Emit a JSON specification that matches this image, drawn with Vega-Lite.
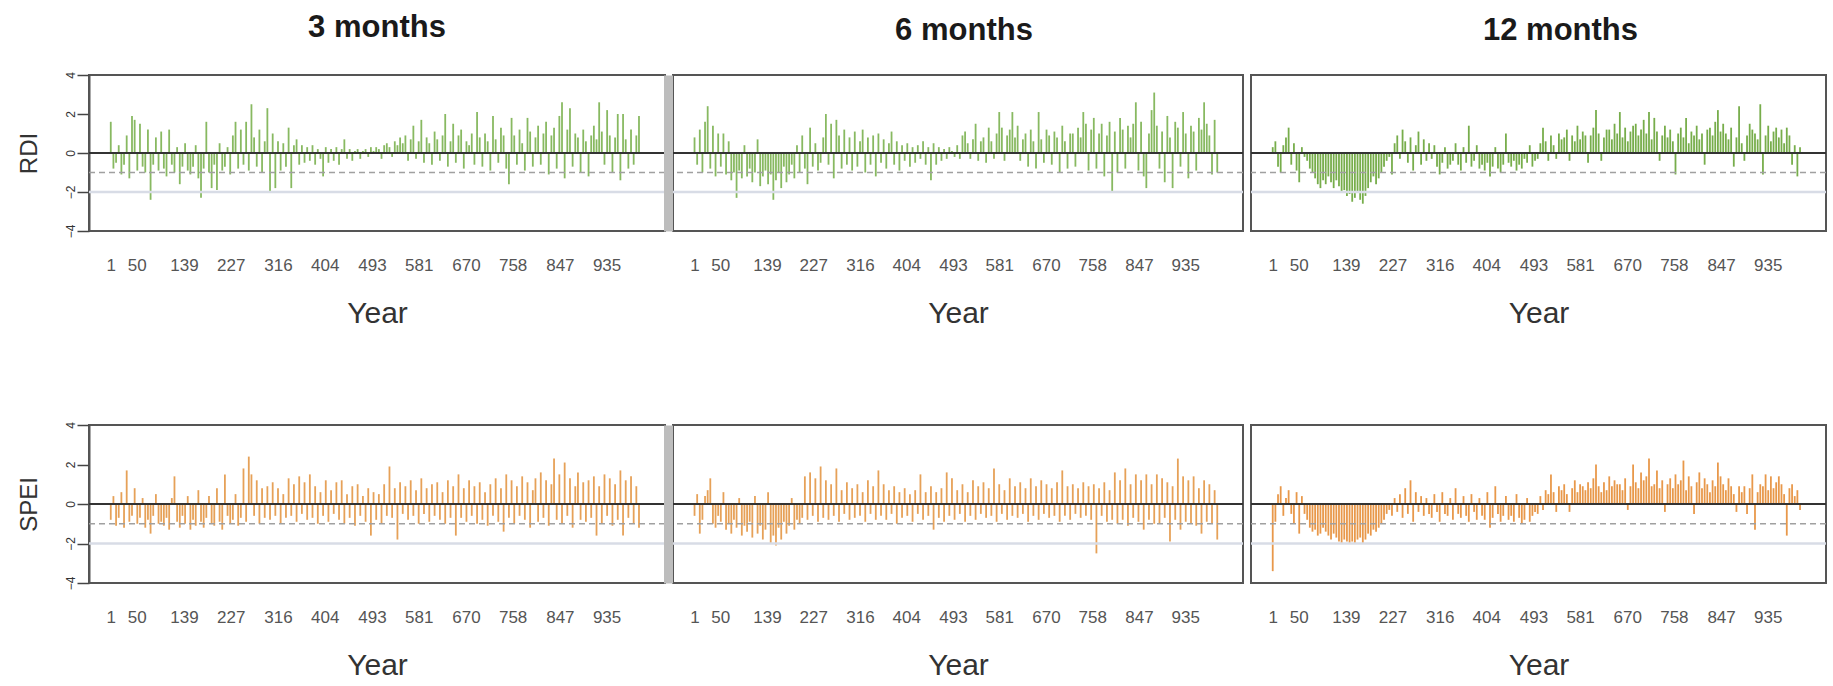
{
"$schema": "https://vega.github.io/schema/vega-lite/v6.json",
"padding": {"left": 16, "top": 10, "right": 4, "bottom": 0},
"background": "white",
"data": {"values": [
{"m":1,"r3":1.6,"r6":0.8,"r12":0.3,"s3":-0.8,"s6":-0.6,"s12":-3.4},
{"m":6,"r3":-0.8,"r6":-0.6,"r12":0.6,"s3":0.4,"s6":0.5,"s12":-0.9},
{"m":11,"r3":-0.5,"r6":1.2,"r12":-0.7,"s3":-1.1,"s6":-1.5,"s12":0.5},
{"m":16,"r3":0.4,"r6":-1.0,"r12":-1.0,"s3":-0.7,"s6":-0.8,"s12":0.9},
{"m":21,"r3":-1.1,"r6":1.6,"r12":0.4,"s3":0.6,"s6":0.4,"s12":-0.6},
{"m":26,"r3":-0.6,"r6":2.4,"r12":0.8,"s3":-1.2,"s6":0.7,"s12":0.3},
{"m":31,"r3":0.9,"r6":-0.8,"r12":1.3,"s3":1.7,"s6":1.3,"s12":0.7},
{"m":36,"r3":-1.3,"r6":1.4,"r12":-0.6,"s3":-0.9,"s6":-1.0,"s12":-0.5},
{"m":41,"r3":1.9,"r6":-1.2,"r12":0.5,"s3":-0.6,"s6":-1.2,"s12":-1.0},
{"m":46,"r3":1.7,"r6":1.0,"r12":-0.9,"s3":0.8,"s6":-0.6,"s12":0.6},
{"m":51,"r3":-0.9,"r6":-0.7,"r12":-1.5,"s3":-1.0,"s6":-0.9,"s12":-1.5},
{"m":56,"r3":1.5,"r6":1.0,"r12":0.3,"s3":-0.7,"s6":0.6,"s12":0.4},
{"m":61,"r3":-0.7,"r6":-1.1,"r12":-0.2,"s3":0.3,"s6":-1.3,"s12":-0.5},
{"m":66,"r3":-1.0,"r6":0.6,"r12":-0.4,"s3":-1.2,"s6":-1.0,"s12":-0.8},
{"m":71,"r3":1.2,"r6":-1.4,"r12":-0.8,"s3":-0.8,"s6":-1.5,"s12":-1.2},
{"m":76,"r3":-2.4,"r6":-1.0,"r12":-1.0,"s3":-1.5,"s6":-0.8,"s12":-1.4},
{"m":81,"r3":-0.6,"r6":-2.3,"r12":-1.3,"s3":-0.6,"s6":-1.2,"s12":-1.3},
{"m":86,"r3":0.8,"r6":-0.9,"r12":-1.6,"s3":0.5,"s6":0.3,"s12":-1.6},
{"m":91,"r3":-0.9,"r6":-1.3,"r12":-1.8,"s3":-1.0,"s6":-1.6,"s12":-1.5},
{"m":96,"r3":1.1,"r6":0.4,"r12":-1.4,"s3":-0.9,"s6":-1.1,"s12":-1.2},
{"m":101,"r3":-0.8,"r6":-1.2,"r12":-1.6,"s3":-1.1,"s6":-1.4,"s12":-1.4},
{"m":106,"r3":-1.2,"r6":-0.8,"r12":-1.2,"s3":-0.7,"s6":-0.9,"s12":-1.6},
{"m":111,"r3":1.2,"r6":-1.5,"r12":-1.5,"s3":-1.3,"s6":-1.7,"s12":-1.8},
{"m":116,"r3":-0.6,"r6":-1.0,"r12":-1.8,"s3":0.3,"s6":0.4,"s12":-1.5},
{"m":121,"r3":-1.0,"r6":0.7,"r12":-1.4,"s3":1.4,"s6":-1.5,"s12":-1.7},
{"m":126,"r3":0.3,"r6":-1.7,"r12":-1.7,"s3":-0.9,"s6":-1.1,"s12":-1.9},
{"m":131,"r3":-1.6,"r6":-1.2,"r12":-2.0,"s3":-1.2,"s6":-1.8,"s12":-2.0},
{"m":136,"r3":-0.7,"r6":-0.9,"r12":-1.9,"s3":-0.6,"s6":-1.3,"s12":-1.8},
{"m":141,"r3":0.5,"r6":-1.6,"r12":-2.2,"s3":-1.0,"s6":0.6,"s12":-1.9},
{"m":146,"r3":-0.9,"r6":-1.1,"r12":-2.1,"s3":0.4,"s6":-2.0,"s12":-2.0},
{"m":151,"r3":-1.1,"r6":-2.4,"r12":-2.5,"s3":-1.3,"s6":-1.6,"s12":-1.9},
{"m":156,"r3":-0.7,"r6":-1.4,"r12":-2.3,"s3":-0.8,"s6":-2.1,"s12":-2.0},
{"m":161,"r3":0.4,"r6":-1.0,"r12":-2.0,"s3":-1.1,"s6":-1.2,"s12":-1.8},
{"m":166,"r3":-1.3,"r6":-1.8,"r12":-2.4,"s3":0.7,"s6":-1.8,"s12":-1.7},
{"m":171,"r3":-2.3,"r6":-0.7,"r12":-2.6,"s3":-0.9,"s6":-0.9,"s12":-2.0},
{"m":176,"r3":-0.8,"r6":-1.5,"r12":-2.2,"s3":-1.2,"s6":-1.5,"s12":-1.8},
{"m":181,"r3":1.6,"r6":-1.1,"r12":-1.8,"s3":-0.7,"s6":-1.1,"s12":-1.5},
{"m":186,"r3":-1.0,"r6":-0.6,"r12":-1.5,"s3":0.4,"s6":0.3,"s12":-1.6},
{"m":191,"r3":-1.8,"r6":-1.3,"r12":-1.2,"s3":-1.0,"s6":-1.3,"s12":-1.3},
{"m":196,"r3":-0.6,"r6":0.4,"r12":-1.6,"s3":-1.1,"s6":-0.8,"s12":-1.4},
{"m":201,"r3":-1.9,"r6":-1.0,"r12":-1.3,"s3":0.8,"s6":-1.0,"s12":-1.2},
{"m":206,"r3":0.5,"r6":0.9,"r12":-1.0,"s3":-0.9,"s6":-0.7,"s12":-1.0},
{"m":211,"r3":-0.9,"r6":-0.8,"r12":-0.7,"s3":-1.3,"s6":1.4,"s12":-0.8},
{"m":216,"r3":-0.7,"r6":-1.6,"r12":-0.4,"s3":1.5,"s6":-0.8,"s12":-0.5},
{"m":221,"r3":0.3,"r6":1.3,"r12":-0.2,"s3":-0.6,"s6":1.6,"s12":-0.3},
{"m":226,"r3":-1.1,"r6":-0.7,"r12":-1.1,"s3":-1.0,"s6":-0.6,"s12":-0.6},
{"m":231,"r3":0.9,"r6":0.5,"r12":0.5,"s3":-0.8,"s6":1.3,"s12":0.3},
{"m":236,"r3":1.6,"r6":-0.9,"r12":0.9,"s3":0.5,"s6":-0.9,"s12":-0.4},
{"m":241,"r3":-0.8,"r6":-0.5,"r12":-0.3,"s3":-1.1,"s6":1.9,"s12":0.5},
{"m":246,"r3":1.2,"r6":0.8,"r12":1.2,"s3":-0.7,"s6":-0.7,"s12":-0.7},
{"m":251,"r3":-0.6,"r6":2.0,"r12":0.6,"s3":1.8,"s6":1.2,"s12":0.8},
{"m":256,"r3":1.6,"r6":-0.6,"r12":-0.5,"s3":-0.9,"s6":-0.8,"s12":-0.5},
{"m":261,"r3":-0.9,"r6":1.5,"r12":0.8,"s3":2.4,"s6":1.0,"s12":1.2},
{"m":266,"r3":2.5,"r6":-1.3,"r12":-0.9,"s3":1.5,"s6":-0.6,"s12":-0.9},
{"m":271,"r3":0.8,"r6":1.7,"r12":0.4,"s3":-0.6,"s6":1.8,"s12":0.6},
{"m":276,"r3":-0.7,"r6":0.9,"r12":1.1,"s3":1.2,"s6":-0.9,"s12":-0.4},
{"m":281,"r3":1.2,"r6":-0.8,"r12":-0.6,"s3":-1.0,"s6":0.7,"s12":0.4},
{"m":286,"r3":-1.0,"r6":1.2,"r12":0.7,"s3":0.8,"s6":-0.5,"s12":-0.6},
{"m":291,"r3":0.6,"r6":-0.6,"r12":-0.4,"s3":-0.7,"s6":1.1,"s12":0.3},
{"m":296,"r3":2.3,"r6":0.8,"r12":0.5,"s3":0.9,"s6":-0.8,"s12":-0.5},
{"m":301,"r3":-2.0,"r6":-0.9,"r12":-0.3,"s3":-0.8,"s6":0.8,"s12":-0.7},
{"m":306,"r3":1.0,"r6":1.1,"r12":0.4,"s3":1.1,"s6":-0.7,"s12":0.5},
{"m":311,"r3":-1.8,"r6":-0.7,"r12":-0.7,"s3":-0.6,"s6":1.0,"s12":-0.4},
{"m":316,"r3":0.6,"r6":0.6,"r12":-1.1,"s3":0.8,"s6":-0.6,"s12":-0.9},
{"m":321,"r3":-0.9,"r6":1.2,"r12":-0.5,"s3":-1.0,"s6":0.6,"s12":0.6},
{"m":326,"r3":0.5,"r6":-1.0,"r12":0.3,"s3":0.5,"s6":-0.9,"s12":-0.5},
{"m":331,"r3":-0.7,"r6":0.8,"r12":-0.8,"s3":-0.7,"s6":1.2,"s12":-0.6},
{"m":336,"r3":1.3,"r6":-0.6,"r12":-0.6,"s3":1.3,"s6":-0.5,"s12":0.3},
{"m":341,"r3":-1.8,"r6":0.9,"r12":-0.4,"s3":-0.6,"s6":0.9,"s12":-0.8},
{"m":346,"r3":0.4,"r6":-1.2,"r12":0.5,"s3":1.0,"s6":-0.8,"s12":0.8},
{"m":351,"r3":0.7,"r6":1.0,"r12":-0.6,"s3":-0.9,"s6":1.7,"s12":-0.5},
{"m":356,"r3":-0.6,"r6":-0.5,"r12":-0.9,"s3":1.4,"s6":-0.6,"s12":-0.7},
{"m":361,"r3":0.4,"r6":0.7,"r12":0.3,"s3":-0.5,"s6":1.0,"s12":0.4},
{"m":366,"r3":-0.5,"r6":-0.8,"r12":-0.5,"s3":1.1,"s6":-0.8,"s12":-0.6},
{"m":371,"r3":0.3,"r6":0.5,"r12":1.4,"s3":-0.8,"s6":0.7,"s12":-0.9},
{"m":376,"r3":-0.4,"r6":1.1,"r12":-0.7,"s3":1.5,"s6":-0.5,"s12":0.5},
{"m":381,"r3":0.4,"r6":-0.6,"r12":-0.4,"s3":-0.7,"s6":0.9,"s12":-0.4},
{"m":386,"r3":-0.6,"r6":0.6,"r12":0.4,"s3":0.9,"s6":-1.0,"s12":-0.8},
{"m":391,"r3":0.2,"r6":-0.9,"r12":-0.8,"s3":-1.0,"s6":0.6,"s12":0.3},
{"m":396,"r3":-0.3,"r6":0.4,"r12":-0.6,"s3":0.6,"s6":-0.7,"s12":-0.6},
{"m":401,"r3":-1.2,"r6":-0.4,"r12":-0.9,"s3":-0.6,"s6":0.8,"s12":-0.8},
{"m":406,"r3":0.3,"r6":0.5,"r12":-0.5,"s3":1.2,"s6":-0.6,"s12":0.6},
{"m":411,"r3":-0.5,"r6":-0.7,"r12":-1.2,"s3":-0.9,"s6":0.5,"s12":-1.2},
{"m":416,"r3":0.2,"r6":0.3,"r12":-0.7,"s3":0.7,"s6":-0.9,"s12":-0.7},
{"m":421,"r3":-0.4,"r6":-0.5,"r12":0.3,"s3":-0.5,"s6":0.7,"s12":0.9},
{"m":426,"r3":0.3,"r6":0.4,"r12":-0.8,"s3":1.1,"s6":-0.5,"s12":-0.5},
{"m":431,"r3":-0.6,"r6":-0.3,"r12":-1.0,"s3":-0.8,"s6":1.5,"s12":-0.9},
{"m":436,"r3":0.2,"r6":0.6,"r12":-0.6,"s3":1.2,"s6":-0.8,"s12":-0.6},
{"m":441,"r3":0.7,"r6":-0.6,"r12":1.0,"s3":-1.0,"s6":0.6,"s12":0.4},
{"m":446,"r3":-0.3,"r6":0.3,"r12":-0.5,"s3":0.5,"s6":-0.6,"s12":-0.8},
{"m":451,"r3":0.2,"r6":-1.4,"r12":-0.7,"s3":-0.7,"s6":0.9,"s12":-0.6},
{"m":456,"r3":-0.4,"r6":0.5,"r12":-0.4,"s3":0.9,"s6":-1.3,"s12":-0.9},
{"m":461,"r3":0.1,"r6":-0.6,"r12":-0.9,"s3":-1.1,"s6":0.6,"s12":0.5},
{"m":466,"r3":0.2,"r6":0.3,"r12":-0.6,"s3":1.0,"s6":-0.7,"s12":-0.7},
{"m":471,"r3":-0.3,"r6":-0.4,"r12":-0.8,"s3":-0.6,"s6":0.8,"s12":-1.0},
{"m":476,"r3":0.1,"r6":0.2,"r12":-0.3,"s3":0.4,"s6":-0.9,"s12":-0.8},
{"m":481,"r3":0.2,"r6":-0.3,"r12":-0.5,"s3":-0.9,"s6":1.6,"s12":0.3},
{"m":486,"r3":-0.2,"r6":0.3,"r12":0.4,"s3":0.8,"s6":-0.6,"s12":-0.9},
{"m":491,"r3":0.3,"r6":0.1,"r12":-0.7,"s3":-1.6,"s6":1.3,"s12":-0.6},
{"m":496,"r3":0.1,"r6":-0.2,"r12":-0.4,"s3":0.6,"s6":-0.8,"s12":-0.4},
{"m":501,"r3":0.3,"r6":0.4,"r12":-0.3,"s3":-0.8,"s6":0.7,"s12":-0.5},
{"m":506,"r3":0.2,"r6":-0.3,"r12":0.5,"s3":0.5,"s6":-0.5,"s12":0.4},
{"m":511,"r3":-0.3,"r6":0.9,"r12":1.3,"s3":-1.0,"s6":1.0,"s12":-0.3},
{"m":516,"r3":0.4,"r6":1.1,"r12":0.6,"s3":1.0,"s6":-0.9,"s12":0.7},
{"m":521,"r3":0.5,"r6":0.5,"r12":-0.4,"s3":-0.6,"s6":0.6,"s12":0.5},
{"m":526,"r3":0.3,"r6":-0.3,"r12":0.9,"s3":1.9,"s6":-0.6,"s12":1.5},
{"m":531,"r3":-0.2,"r6":0.7,"r12":0.4,"s3":-0.7,"s6":1.2,"s12":0.6},
{"m":536,"r3":0.6,"r6":1.5,"r12":-0.3,"s3":0.8,"s6":-0.8,"s12":-0.4},
{"m":541,"r3":0.4,"r6":-0.4,"r12":1.0,"s3":-1.8,"s6":0.9,"s12":0.9},
{"m":546,"r3":0.8,"r6":0.6,"r12":0.7,"s3":1.1,"s6":-0.5,"s12":0.7},
{"m":551,"r3":0.5,"r6":0.8,"r12":0.8,"s3":-0.5,"s6":1.1,"s12":1.0},
{"m":556,"r3":0.9,"r6":-0.5,"r12":1.2,"s3":0.9,"s6":-0.7,"s12":0.5},
{"m":561,"r3":-0.4,"r6":1.3,"r12":-0.4,"s3":-0.8,"s6":0.8,"s12":-0.4},
{"m":566,"r3":0.7,"r6":0.6,"r12":0.9,"s3":1.2,"s6":-0.6,"s12":0.8},
{"m":571,"r3":1.4,"r6":-0.3,"r12":0.6,"s3":-0.6,"s6":1.8,"s12":1.2},
{"m":576,"r3":-0.3,"r6":1.0,"r12":1.4,"s3":0.7,"s6":-0.9,"s12":0.6},
{"m":581,"r3":0.6,"r6":2.1,"r12":0.7,"s3":-1.0,"s6":1.0,"s12":1.0},
{"m":586,"r3":1.7,"r6":1.3,"r12":1.1,"s3":1.3,"s6":-0.5,"s12":0.9},
{"m":591,"r3":-0.5,"r6":-0.4,"r12":0.9,"s3":-0.5,"s6":0.7,"s12":0.7},
{"m":596,"r3":0.8,"r6":0.9,"r12":-0.5,"s3":0.8,"s6":-0.8,"s12":1.1},
{"m":601,"r3":0.5,"r6":1.2,"r12":0.9,"s3":-0.9,"s6":1.3,"s12":0.8},
{"m":606,"r3":-0.6,"r6":2.1,"r12":1.3,"s3":1.0,"s6":-0.6,"s12":1.3},
{"m":611,"r3":1.1,"r6":0.8,"r12":2.2,"s3":-0.6,"s6":0.9,"s12":2.0},
{"m":616,"r3":0.7,"r6":1.4,"r12":1.0,"s3":1.1,"s6":-0.7,"s12":0.9},
{"m":621,"r3":-0.4,"r6":-0.4,"r12":-0.4,"s3":-0.8,"s6":1.1,"s12":0.6},
{"m":626,"r3":0.9,"r6":0.7,"r12":0.8,"s3":0.6,"s6":-0.5,"s12":1.1},
{"m":631,"r3":2.0,"r6":1.0,"r12":1.2,"s3":-1.0,"s6":0.8,"s12":0.7},
{"m":636,"r3":-0.7,"r6":-0.7,"r12":1.2,"s3":1.2,"s6":-0.9,"s12":1.4},
{"m":641,"r3":0.6,"r6":1.2,"r12":0.7,"s3":-0.7,"s6":1.3,"s12":0.9},
{"m":646,"r3":1.5,"r6":0.6,"r12":1.5,"s3":0.9,"s6":-0.6,"s12":1.2},
{"m":651,"r3":-0.5,"r6":-0.8,"r12":1.0,"s3":-1.6,"s6":0.9,"s12":1.0},
{"m":656,"r3":0.9,"r6":2.1,"r12":2.1,"s3":1.5,"s6":-0.8,"s12":1.0},
{"m":661,"r3":1.2,"r6":0.7,"r12":0.8,"s3":-0.7,"s6":1.2,"s12":0.7},
{"m":666,"r3":-0.8,"r6":-0.5,"r12":1.3,"s3":0.8,"s6":-0.5,"s12":1.3},
{"m":671,"r3":0.6,"r6":1.2,"r12":0.6,"s3":-0.9,"s6":1.0,"s12":-0.3},
{"m":676,"r3":0.4,"r6":0.9,"r12":1.1,"s3":1.2,"s6":-0.7,"s12":0.9},
{"m":681,"r3":1.0,"r6":-0.6,"r12":1.4,"s3":-0.6,"s6":0.8,"s12":2.0},
{"m":686,"r3":-0.6,"r6":1.1,"r12":1.5,"s3":0.9,"s6":-0.6,"s12":1.1},
{"m":691,"r3":2.1,"r6":0.8,"r12":0.9,"s3":-1.0,"s6":1.1,"s12":0.8},
{"m":696,"r3":0.8,"r6":-1.0,"r12":1.2,"s3":1.1,"s6":-0.9,"s12":1.6},
{"m":701,"r3":-0.7,"r6":1.4,"r12":1.7,"s3":-0.8,"s6":1.7,"s12":1.2},
{"m":706,"r3":1.0,"r6":0.6,"r12":1.0,"s3":0.6,"s6":-0.6,"s12":1.4},
{"m":711,"r3":0.6,"r6":-0.8,"r12":2.1,"s3":-1.1,"s6":0.9,"s12":2.3},
{"m":716,"r3":-0.9,"r6":1.0,"r12":0.7,"s3":1.0,"s6":-0.8,"s12":0.9},
{"m":721,"r3":1.9,"r6":1.0,"r12":1.8,"s3":-0.6,"s6":1.0,"s12":1.0},
{"m":726,"r3":0.7,"r6":-0.7,"r12":1.1,"s3":1.3,"s6":-0.5,"s12":1.7},
{"m":731,"r3":-0.5,"r6":1.3,"r12":-0.4,"s3":-0.9,"s6":0.8,"s12":0.8},
{"m":736,"r3":1.3,"r6":0.8,"r12":0.9,"s3":0.8,"s6":-0.7,"s12":1.2},
{"m":741,"r3":0.9,"r6":2.1,"r12":1.4,"s3":-1.4,"s6":1.1,"s12":-0.4},
{"m":746,"r3":-0.8,"r6":1.5,"r12":0.8,"s3":1.5,"s6":-0.6,"s12":1.0},
{"m":751,"r3":-1.6,"r6":-0.9,"r12":1.2,"s3":-0.7,"s6":0.9,"s12":1.3},
{"m":756,"r3":1.8,"r6":1.2,"r12":0.6,"s3":1.2,"s6":-0.8,"s12":0.8},
{"m":761,"r3":0.9,"r6":1.8,"r12":-1.1,"s3":-1.0,"s6":1.0,"s12":1.5},
{"m":766,"r3":-0.6,"r6":-0.8,"r12":1.0,"s3":0.9,"s6":-2.5,"s12":1.0},
{"m":771,"r3":1.2,"r6":1.0,"r12":1.3,"s3":-0.6,"s6":0.8,"s12":1.2},
{"m":776,"r3":0.5,"r6":1.5,"r12":0.8,"s3":1.4,"s6":-0.6,"s12":2.2},
{"m":781,"r3":-0.9,"r6":-1.2,"r12":1.8,"s3":-0.8,"s6":1.1,"s12":0.7},
{"m":786,"r3":1.8,"r6":0.9,"r12":0.5,"s3":1.1,"s6":-0.9,"s12":1.4},
{"m":791,"r3":1.1,"r6":1.6,"r12":1.1,"s3":-1.2,"s6":0.7,"s12":0.9},
{"m":796,"r3":-0.7,"r6":-2.0,"r12":0.9,"s3":0.7,"s6":-0.8,"s12":-0.5},
{"m":801,"r3":0.8,"r6":1.1,"r12":1.4,"s3":1.3,"s6":1.6,"s12":1.1},
{"m":806,"r3":1.4,"r6":-1.0,"r12":0.7,"s3":-0.9,"s6":-1.0,"s12":1.6},
{"m":811,"r3":-0.6,"r6":1.8,"r12":1.0,"s3":1.6,"s6":1.2,"s12":0.8},
{"m":816,"r3":1.0,"r6":1.2,"r12":-0.6,"s3":-0.7,"s6":-0.8,"s12":1.3},
{"m":821,"r3":1.6,"r6":-0.8,"r12":1.2,"s3":1.2,"s6":1.8,"s12":1.0},
{"m":826,"r3":-1.1,"r6":1.4,"r12":1.3,"s3":-1.1,"s6":-1.1,"s12":0.6},
{"m":831,"r3":0.9,"r6":0.8,"r12":0.9,"s3":1.0,"s6":1.0,"s12":1.2},
{"m":836,"r3":1.3,"r6":1.5,"r12":1.6,"s3":2.3,"s6":-0.7,"s12":0.9},
{"m":841,"r3":-0.8,"r6":2.6,"r12":2.2,"s3":-0.8,"s6":1.5,"s12":2.1},
{"m":846,"r3":1.9,"r6":-0.9,"r12":1.1,"s3":1.5,"s6":-0.9,"s12":1.4},
{"m":851,"r3":2.6,"r6":1.6,"r12":1.5,"s3":-1.0,"s6":1.2,"s12":1.0},
{"m":856,"r3":-1.3,"r6":-1.2,"r12":1.0,"s3":2.1,"s6":-1.3,"s12":0.7},
{"m":861,"r3":1.2,"r6":-1.8,"r12":0.7,"s3":-0.6,"s6":1.5,"s12":1.3},
{"m":866,"r3":2.3,"r6":1.0,"r12":1.3,"s3":1.3,"s6":-0.8,"s12":0.9},
{"m":871,"r3":-0.7,"r6":2.2,"r12":-0.7,"s3":-1.2,"s6":1.0,"s12":0.5},
{"m":876,"r3":1.0,"r6":3.1,"r12":0.8,"s3":0.9,"s6":-1.0,"s12":-0.4},
{"m":881,"r3":0.8,"r6":1.4,"r12":2.4,"s3":1.6,"s6":1.5,"s12":0.9},
{"m":886,"r3":-1.0,"r6":-0.8,"r12":0.5,"s3":-0.8,"s6":-1.0,"s12":0.6},
{"m":891,"r3":1.2,"r6":1.1,"r12":-0.4,"s3":1.1,"s6":1.3,"s12":0.9},
{"m":896,"r3":0.6,"r6":-1.5,"r12":0.9,"s3":-0.9,"s6":-0.7,"s12":-0.5},
{"m":901,"r3":-1.2,"r6":1.9,"r12":1.5,"s3":1.2,"s6":1.1,"s12":0.8},
{"m":906,"r3":0.9,"r6":0.8,"r12":1.2,"s3":-0.7,"s6":-1.9,"s12":1.5},
{"m":911,"r3":1.4,"r6":-1.8,"r12":1.0,"s3":1.4,"s6":0.9,"s12":-1.3},
{"m":916,"r3":0.7,"r6":1.6,"r12":0.7,"s3":-1.6,"s6":-0.8,"s12":0.6},
{"m":921,"r3":2.6,"r6":1.3,"r12":2.5,"s3":0.9,"s6":2.3,"s12":1.0},
{"m":926,"r3":1.1,"r6":-0.7,"r12":-1.1,"s3":-1.0,"s6":-1.3,"s12":0.9},
{"m":931,"r3":-0.6,"r6":2.1,"r12":0.9,"s3":1.5,"s6":1.4,"s12":1.5},
{"m":936,"r3":2.2,"r6":1.0,"r12":1.4,"s3":-0.6,"s6":-0.9,"s12":0.7},
{"m":941,"r3":0.9,"r6":-1.3,"r12":0.6,"s3":1.3,"s6":1.2,"s12":1.4},
{"m":946,"r3":-1.0,"r6":1.4,"r12":1.1,"s3":-1.1,"s6":-1.0,"s12":0.8},
{"m":951,"r3":0.8,"r6":1.1,"r12":1.3,"s3":1.0,"s6":1.4,"s12":1.1},
{"m":956,"r3":2.0,"r6":-0.9,"r12":0.8,"s3":-0.8,"s6":-1.1,"s12":1.4},
{"m":961,"r3":-1.4,"r6":1.8,"r12":1.2,"s3":1.7,"s6":0.8,"s12":1.0},
{"m":966,"r3":2.0,"r6":1.2,"r12":0.5,"s3":-1.6,"s6":-1.5,"s12":0.5},
{"m":971,"r3":0.7,"r6":2.6,"r12":1.3,"s3":1.2,"s6":1.2,"s12":-1.6},
{"m":976,"r3":-0.8,"r6":1.5,"r12":0.9,"s3":-0.7,"s6":-0.9,"s12":0.8},
{"m":981,"r3":1.2,"r6":0.9,"r12":-0.6,"s3":1.4,"s6":1.0,"s12":1.0},
{"m":986,"r3":-0.6,"r6":-1.1,"r12":0.4,"s3":-1.0,"s6":-1.0,"s12":0.4},
{"m":991,"r3":0.9,"r6":1.7,"r12":-1.2,"s3":0.9,"s6":0.7,"s12":0.7},
{"m":996,"r3":1.9,"r6":-1.0,"r12":0.3,"s3":-1.2,"s6":-1.8,"s12":-0.3}
]},
"columns": 3,
"bounds": "flush",
"spacing": {"row": 194, "column": 8},
"concat": [
{"width": 576, "height": 156, "title": "3 months",
 "layer": [
  {"mark": {"type": "rule", "color": "#6aa83a", "strokeWidth": 1.8, "opacity": 0.8},
   "encoding": {
    "x": {"field": "m", "type": "quantitative", "scale": {"domain": [-40, 1045], "nice": false, "zero": false}, "axis": {"values": [1,50,139,227,316,404,493,581,670,758,847,935], "title": "Year"}},
    "y": {"field": "r3", "type": "quantitative", "scale": {"domain": [-4, 4], "nice": false}, "axis": {"values": [-4,-2,0,2,4], "tickCount": 5, "title": "RDI", "labelAngle": -90, "labelOverlap": false, "labelBound": false}},
    "y2": {"datum": 0}}},
  {"data": {"values": [{}]}, "mark": {"type": "rule", "color": "#a0a0a0", "strokeDash": [6, 4], "strokeWidth": 1.5}, "encoding": {"y": {"datum": -1}}},
  {"data": {"values": [{}]}, "mark": {"type": "rule", "color": "#d8dce6", "strokeWidth": 2.5}, "encoding": {"y": {"datum": -2}}},
  {"data": {"values": [{}]}, "mark": {"type": "rule", "color": "#333333", "strokeWidth": 2}, "encoding": {"y": {"datum": 0}}}
 ]},
{"width": 570, "height": 156, "title": {"text": "6 months", "dx": 6},
 "layer": [
  {"mark": {"type": "rule", "color": "#6aa83a", "strokeWidth": 1.8, "opacity": 0.8},
   "encoding": {
    "x": {"field": "m", "type": "quantitative", "scale": {"domain": [-40, 1045], "nice": false, "zero": false}, "axis": {"values": [1,50,139,227,316,404,493,581,670,758,847,935], "title": "Year"}},
    "y": {"field": "r6", "type": "quantitative", "scale": {"domain": [-4, 4], "nice": false}, "axis": {"labels": false, "ticks": false, "title": null, "domainColor": "#bdbdbd", "domainWidth": 9, "offset": 5}},
    "y2": {"datum": 0}}},
  {"data": {"values": [{}]}, "mark": {"type": "rule", "color": "#a0a0a0", "strokeDash": [6, 4], "strokeWidth": 1.5}, "encoding": {"y": {"datum": -1}}},
  {"data": {"values": [{}]}, "mark": {"type": "rule", "color": "#d8dce6", "strokeWidth": 2.5}, "encoding": {"y": {"datum": -2}}},
  {"data": {"values": [{}]}, "mark": {"type": "rule", "color": "#333333", "strokeWidth": 2}, "encoding": {"y": {"datum": 0}}}
 ]},
{"width": 575, "height": 156, "title": {"text": "12 months", "dx": 22},
 "layer": [
  {"mark": {"type": "rule", "color": "#5f9f2c", "strokeWidth": 1.8, "opacity": 0.85},
   "encoding": {
    "x": {"field": "m", "type": "quantitative", "scale": {"domain": [-40, 1045], "nice": false, "zero": false}, "axis": {"values": [1,50,139,227,316,404,493,581,670,758,847,935], "title": "Year"}},
    "y": {"field": "r12", "type": "quantitative", "scale": {"domain": [-4, 4], "nice": false}, "axis": {"labels": false, "ticks": false, "domain": false, "title": null}},
    "y2": {"datum": 0}}},
  {"data": {"values": [{}]}, "mark": {"type": "rule", "color": "#a0a0a0", "strokeDash": [6, 4], "strokeWidth": 1.5}, "encoding": {"y": {"datum": -1}}},
  {"data": {"values": [{}]}, "mark": {"type": "rule", "color": "#d8dce6", "strokeWidth": 2.5}, "encoding": {"y": {"datum": -2}}},
  {"data": {"values": [{}]}, "mark": {"type": "rule", "color": "#333333", "strokeWidth": 2}, "encoding": {"y": {"datum": 0}}}
 ]},
{"width": 576, "height": 158,
 "layer": [
  {"mark": {"type": "rule", "color": "#e08a2e", "strokeWidth": 1.8, "opacity": 0.8},
   "encoding": {
    "x": {"field": "m", "type": "quantitative", "scale": {"domain": [-40, 1045], "nice": false, "zero": false}, "axis": {"values": [1,50,139,227,316,404,493,581,670,758,847,935], "title": "Year"}},
    "y": {"field": "s3", "type": "quantitative", "scale": {"domain": [-4, 4], "nice": false}, "axis": {"values": [-4,-2,0,2,4], "tickCount": 5, "title": "SPEI", "labelAngle": -90, "labelOverlap": false, "labelBound": false}},
    "y2": {"datum": 0}}},
  {"data": {"values": [{}]}, "mark": {"type": "rule", "color": "#a0a0a0", "strokeDash": [6, 4], "strokeWidth": 1.5}, "encoding": {"y": {"datum": -1}}},
  {"data": {"values": [{}]}, "mark": {"type": "rule", "color": "#d8dce6", "strokeWidth": 2.5}, "encoding": {"y": {"datum": -2}}},
  {"data": {"values": [{}]}, "mark": {"type": "rule", "color": "#333333", "strokeWidth": 2}, "encoding": {"y": {"datum": 0}}}
 ]},
{"width": 570, "height": 158,
 "layer": [
  {"mark": {"type": "rule", "color": "#e08a2e", "strokeWidth": 1.8, "opacity": 0.8},
   "encoding": {
    "x": {"field": "m", "type": "quantitative", "scale": {"domain": [-40, 1045], "nice": false, "zero": false}, "axis": {"values": [1,50,139,227,316,404,493,581,670,758,847,935], "title": "Year"}},
    "y": {"field": "s6", "type": "quantitative", "scale": {"domain": [-4, 4], "nice": false}, "axis": {"labels": false, "ticks": false, "title": null, "domainColor": "#bdbdbd", "domainWidth": 9, "offset": 5}},
    "y2": {"datum": 0}}},
  {"data": {"values": [{}]}, "mark": {"type": "rule", "color": "#a0a0a0", "strokeDash": [6, 4], "strokeWidth": 1.5}, "encoding": {"y": {"datum": -1}}},
  {"data": {"values": [{}]}, "mark": {"type": "rule", "color": "#d8dce6", "strokeWidth": 2.5}, "encoding": {"y": {"datum": -2}}},
  {"data": {"values": [{}]}, "mark": {"type": "rule", "color": "#333333", "strokeWidth": 2}, "encoding": {"y": {"datum": 0}}}
 ]},
{"width": 575, "height": 158,
 "layer": [
  {"mark": {"type": "rule", "color": "#e4862a", "strokeWidth": 1.8, "opacity": 0.85},
   "encoding": {
    "x": {"field": "m", "type": "quantitative", "scale": {"domain": [-40, 1045], "nice": false, "zero": false}, "axis": {"values": [1,50,139,227,316,404,493,581,670,758,847,935], "title": "Year"}},
    "y": {"field": "s12", "type": "quantitative", "scale": {"domain": [-4, 4], "nice": false}, "axis": {"labels": false, "ticks": false, "domain": false, "title": null}},
    "y2": {"datum": 0}}},
  {"data": {"values": [{}]}, "mark": {"type": "rule", "color": "#a0a0a0", "strokeDash": [6, 4], "strokeWidth": 1.5}, "encoding": {"y": {"datum": -1}}},
  {"data": {"values": [{}]}, "mark": {"type": "rule", "color": "#d8dce6", "strokeWidth": 2.5}, "encoding": {"y": {"datum": -2}}},
  {"data": {"values": [{}]}, "mark": {"type": "rule", "color": "#333333", "strokeWidth": 2}, "encoding": {"y": {"datum": 0}}}
 ]}
],
"config": {
 "font": "Liberation Sans",
 "view": {"stroke": "#555555", "strokeWidth": 2},
 "title": {"fontSize": 31, "fontWeight": "bold", "color": "#1a1a1a", "offset": 28},
 "axis": {"grid": false},
 "axisX": {"domain": false, "ticks": false, "labelFontSize": 17, "labelColor": "#555555", "labelPadding": 26, "labelFlush": false, "labelOverlap": false, "titleFontSize": 30, "titleFontWeight": "normal", "titleColor": "#333333", "titlePadding": 25},
 "axisY": {"tickSize": 12, "tickColor": "#444444", "tickWidth": 1.5, "domainColor": "#555555", "domainWidth": 2, "labelFontSize": 12, "labelColor": "#333333", "labelPadding": 0, "labelOverlap": false, "titleFontSize": 24, "titleFontWeight": "normal", "titleColor": "#333333", "titlePadding": 23}
}
}
